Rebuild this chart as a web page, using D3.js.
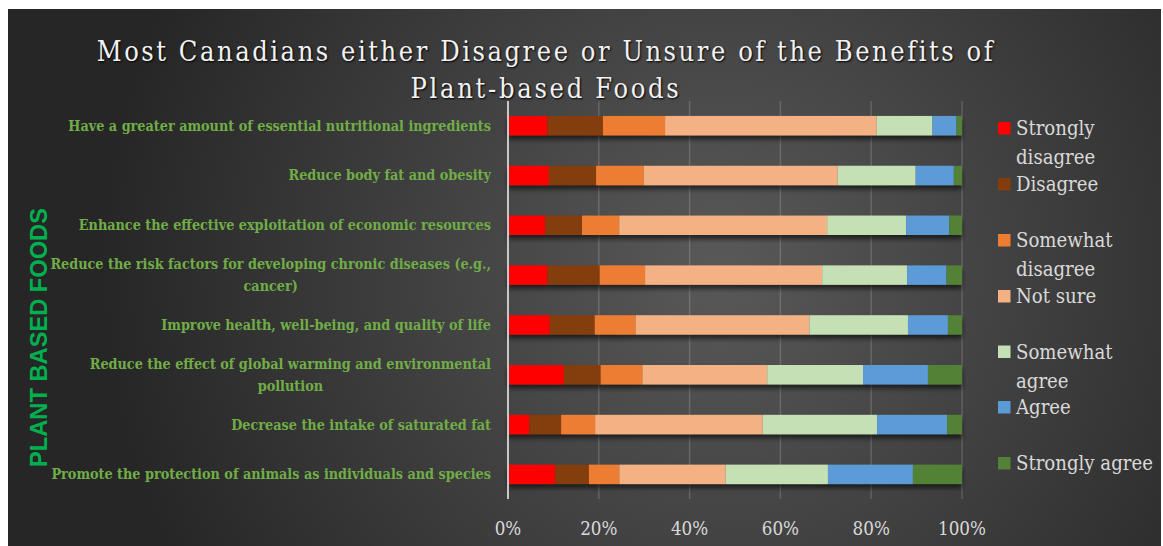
<!DOCTYPE html>
<html>
<head>
<meta charset="utf-8">
<script src="https://cdn.jsdelivr.net/npm/d3@7"></script>
<style>
  html, body { margin: 0; padding: 0; background: #fff; }
  svg { display: block; }
</style>
</head>
<body>
<svg id="chart" width="1163" height="546"></svg>
<script>
// categories, top to bottom
var categories = [
  'Have a greater amount of essential nutritional ingredients',
  'Reduce body fat and obesity',
  'Enhance the effective exploitation of economic resources',
  'Reduce the risk factors for developing chronic diseases (e.g.,|cancer)',
  'Improve health, well-being, and quality of life',
  'Reduce the effect of global warming and environmental|pollution',
  'Decrease the intake of saturated fat',
  'Promote the protection of animals as individuals and species'
];

var seriesNames = ['Strongly disagree', 'Disagree', 'Somewhat disagree', 'Not sure', 'Somewhat agree', 'Agree', 'Strongly agree'];
var seriesColors = ['#ff0000', '#843c0c', '#ed7d31', '#f4b183', '#c5e0b4', '#5b9bd5', '#538135'];

// percent per category (same order as categories)
var stronglyDisagree = [8.7, 9.0, 8.2, 8.7, 9.2, 12.3, 4.7, 10.4];
var disagree         = [12.2, 10.4, 8.1, 11.5, 9.9, 8.1, 7.0, 7.4];
var somewhatDisagree = [13.7, 10.5, 8.2, 10.0, 9.0, 9.2, 7.5, 6.7];
var notSure          = [46.6, 42.7, 45.8, 39.0, 38.3, 27.5, 36.9, 23.4];
var somewhatAgree    = [12.3, 17.2, 17.4, 18.7, 21.7, 21.1, 25.2, 22.5];
var agree            = [5.3, 8.4, 9.5, 8.7, 8.8, 14.3, 15.4, 18.7];
var stronglyAgree    = [1.2, 1.8, 2.8, 3.4, 3.1, 7.5, 3.3, 10.8];

var xTicks = [0, 20, 40, 60, 80, 100];
var xTickLabels = ['0%', '20%', '40%', '60%', '80%', '100%'];

var serif = "'DejaVu Serif Condensed','DejaVu Serif',serif";

var svg = d3.select('#chart');
var W = 1163, H = 546;

// font size that makes a string a given width
function fitSize(str, target, base, weight, family){
  var t = svg.append('text').attr('font-family', family || serif).attr('font-size', base)
    .attr('font-weight', weight || 'normal').text(str);
  var len = t.node().getComputedTextLength();
  t.remove();
  return base * target / len;
}

// background
var defs = svg.append('defs');
var grad = defs.append('radialGradient').attr('id', 'bg')
  .attr('gradientUnits', 'userSpaceOnUse')
  .attr('cx', 720).attr('cy', 270).attr('r', 620);
grad.append('stop').attr('offset', '0%').attr('stop-color', '#595959');
grad.append('stop').attr('offset', '100%').attr('stop-color', '#262626');

var shadow = defs.append('filter').attr('id', 'shadow')
  .attr('x', '-5%').attr('y', '-30%').attr('width', '110%').attr('height', '180%');
shadow.append('feDropShadow').attr('dx', 0).attr('dy', 4).attr('stdDeviation', 2.5)
  .attr('flood-color', '#000').attr('flood-opacity', 0.6);

svg.append('rect').attr('x', 8).attr('y', 9).attr('width', 1153).attr('height', H - 9)
  .attr('fill', 'url(#bg)');

var rows = categories.map(function(c, i){
  return {
    cat: c,
    'Strongly disagree': stronglyDisagree[i],
    'Disagree': disagree[i],
    'Somewhat disagree': somewhatDisagree[i],
    'Not sure': notSure[i],
    'Somewhat agree': somewhatAgree[i],
    'Agree': agree[i],
    'Strongly agree': stronglyAgree[i]
  };
});

var stacked = d3.stack().keys(seriesNames).offset(d3.stackOffsetExpand)(rows);

var margin = {left: 508, right: 201, top: 101, bottom: 47};
var x = d3.scaleLinear().domain([0, 1]).range([margin.left, W - margin.right]);
var y = d3.scaleBand().domain(categories).range([margin.top, H - margin.bottom]).paddingInner(0.61).paddingOuter(0.3);

// gridlines
svg.append('g').selectAll('line').data(xTicks.slice(1)).enter().append('line')
  .attr('x1', function(d){ return x(d / 100); })
  .attr('x2', function(d){ return x(d / 100); })
  .attr('y1', margin.top).attr('y2', H - margin.bottom)
  .attr('stroke', '#ffffff').attr('stroke-opacity', 0.16).attr('stroke-width', 1.5);

// bars
var barG = svg.append('g').attr('filter', 'url(#shadow)');
stacked.forEach(function(s, k){
  barG.append('g').attr('fill', seriesColors[k])
    .selectAll('rect').data(s).enter().append('rect')
    .attr('x', function(d){ return x(d[0]); })
    .attr('width', function(d){ return x(d[1]) - x(d[0]); })
    .attr('y', function(d){ return y(d.data.cat); })
    .attr('height', y.bandwidth());
});

// 0% axis line
svg.append('line').attr('x1', x(0)).attr('x2', x(0))
  .attr('y1', margin.top).attr('y2', H - margin.bottom)
  .attr('stroke', '#c8c8c8').attr('stroke-width', 2);

// x tick labels
var tickSize = fitSize('100%', 48, 19);
svg.append('g').selectAll('text').data(xTicks).enter().append('text')
  .attr('x', function(d){ return x(d / 100); })
  .attr('y', 535)
  .attr('text-anchor', 'middle')
  .attr('font-family', serif).attr('font-size', tickSize)
  .attr('fill', '#d9d9d9')
  .text(function(d, i){ return xTickLabels[i]; });

// category labels (multi-line ones are centred under the widest line)
var labelRight = 491;
var catSize = fitSize(categories[0], 423, 14, 'bold');
var catG = svg.append('g');
categories.forEach(function(c){
  var lines = c.split('|');
  var cy = y(c) + y.bandwidth() / 2;
  var g = catG.append('g');
  var texts = lines.map(function(l, j){
    return g.append('text')
      .attr('y', cy + (j - (lines.length - 1) / 2) * 22 + 5)
      .attr('font-family', serif).attr('font-size', catSize).attr('font-weight', 'bold')
      .attr('fill', '#70ad47')
      .text(l);
  });
  if (lines.length == 1) {
    texts[0].attr('x', labelRight).attr('text-anchor', 'end');
  } else {
    var maxW = d3.max(texts, function(t){ return t.node().getComputedTextLength(); });
    texts.forEach(function(t){
      t.attr('x', labelRight - maxW / 2).attr('text-anchor', 'middle');
    });
  }
});

// y axis title
var sans = "'Liberation Sans',Arial,sans-serif";
svg.append('text')
  .attr('transform', 'translate(47,337.5) rotate(-90)')
  .attr('text-anchor', 'middle')
  .attr('font-family', sans)
  .attr('font-weight', 'bold').attr('font-size', fitSize('PLANT BASED FOODS', 259, 21, 'bold', sans))
  .attr('fill', '#00b050')
  .text('PLANT BASED FOODS');

// title
var titleLines = ['Most Canadians either Disagree or Unsure of the Benefits of', 'Plant-based Foods'];
var titleTargets = [898, 271];
titleLines.forEach(function(t, i){
  var tt = svg.append('text')
    .attr('x', 546).attr('y', 61 + i * 37)
    .attr('text-anchor', 'middle')
    .attr('font-family', serif).attr('font-size', 27)
    .attr('fill', '#f2f2f2')
    .style('text-shadow', '1px 1px 2px #000')
    .text(t);
  var len = tt.node().getComputedTextLength();
  var ls = (titleTargets[i] - len) / t.length;
  tt.attr('letter-spacing', ls);
});

// legend
var legendY = [128, 184, 240, 296, 351.5, 407, 463];
var legendLines = [['Strongly', 'disagree'], ['Disagree'], ['Somewhat', 'disagree'], ['Not sure'], ['Somewhat', 'agree'], ['Agree'], ['Strongly agree']];
var legSize = fitSize('Strongly agree', 137, 20);
var legG = svg.append('g');
seriesNames.forEach(function(s, i){
  legG.append('rect')
    .attr('x', 998).attr('y', legendY[i] - 6)
    .attr('width', 12.5).attr('height', 12.5)
    .attr('fill', seriesColors[i]);
  legendLines[i].forEach(function(l, j){
    legG.append('text')
      .attr('x', 1016).attr('y', legendY[i] + j * 29 + 7)
      .attr('font-family', serif).attr('font-size', legSize)
      .attr('fill', '#d9d9d9')
      .text(l);
  });
});
</script>
</body>
</html>
